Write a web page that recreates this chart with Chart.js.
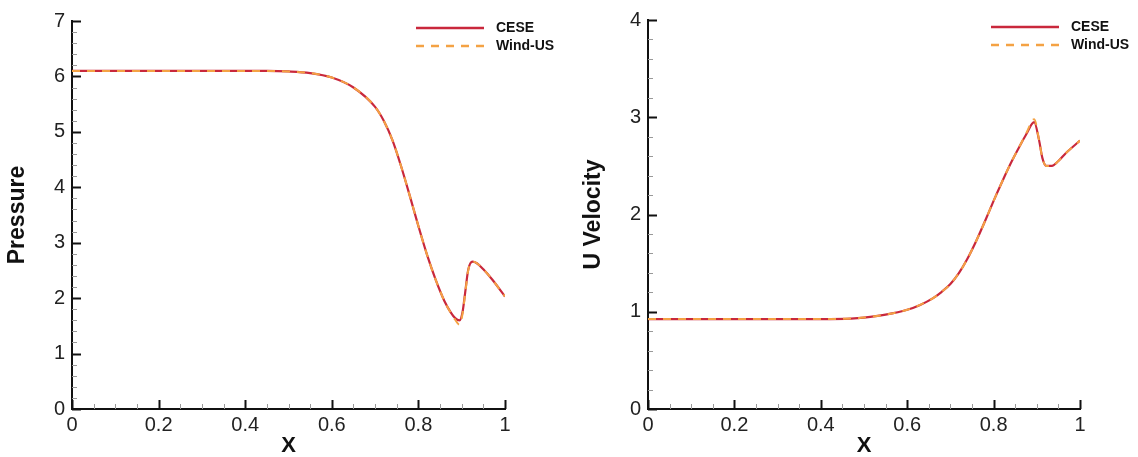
<!DOCTYPE html>
<html>
<head>
<meta charset="utf-8">
<script src="https://cdn.jsdelivr.net/npm/chart.js@4.4.1/dist/chart.umd.min.js"></script>
<style>
  html, body { margin: 0; padding: 0; background: #fff; }
  #wrap { position: relative; width: 1138px; height: 457px; }
  .box { position: absolute; top: 0; height: 457px; }
  #left { left: 0; width: 560px; }
  #right { left: 576px; width: 562px; }
</style>
</head>
<body>
<div id="wrap">
  <div class="box" id="left"><canvas id="pressureChart"></canvas></div>
  <div class="box" id="right"><canvas id="velocityChart"></canvas></div>
</div>
<script>
const seriesNames = ['CESE', 'Wind-US'];

const pressureX    = [0, 0.1, 0.2, 0.3, 0.4, 0.45, 0.5, 0.55, 0.6, 0.65, 0.7, 0.72, 0.74, 0.76, 0.78, 0.8, 0.82, 0.84, 0.86, 0.875, 0.885, 0.895, 0.902, 0.908, 0.915, 0.925, 0.935, 0.95, 0.97, 1.0];
const pressureCese = [6.10, 6.10, 6.10, 6.10, 6.10, 6.10, 6.09, 6.06, 5.98, 5.80, 5.45, 5.20, 4.85, 4.38, 3.85, 3.30, 2.78, 2.33, 1.95, 1.74, 1.64, 1.60, 1.75, 2.10, 2.51, 2.66, 2.63, 2.52, 2.34, 2.03];
const pressureWind = [6.10, 6.10, 6.10, 6.10, 6.10, 6.10, 6.09, 6.06, 5.98, 5.80, 5.45, 5.20, 4.85, 4.38, 3.85, 3.30, 2.78, 2.33, 1.95, 1.73, 1.61, 1.52, 1.72, 2.08, 2.50, 2.66, 2.63, 2.52, 2.34, 2.03];

const velocityX    = [0, 0.1, 0.2, 0.3, 0.4, 0.47, 0.5, 0.55, 0.6, 0.63, 0.66, 0.68, 0.7, 0.72, 0.74, 0.76, 0.78, 0.8, 0.82, 0.84, 0.86, 0.875, 0.894, 0.905, 0.913, 0.922, 0.935, 0.95, 0.967, 1.0];
const velocityCese = [0.925, 0.925, 0.925, 0.925, 0.925, 0.93, 0.94, 0.97, 1.02, 1.07, 1.14, 1.205, 1.285, 1.40, 1.55, 1.73, 1.93, 2.14, 2.34, 2.53, 2.70, 2.82, 2.95, 2.77, 2.58, 2.50, 2.50, 2.55, 2.63, 2.76];
const velocityWind = [0.925, 0.925, 0.925, 0.925, 0.925, 0.93, 0.94, 0.97, 1.02, 1.07, 1.14, 1.205, 1.285, 1.40, 1.55, 1.73, 1.93, 2.14, 2.34, 2.53, 2.70, 2.83, 2.98, 2.77, 2.58, 2.50, 2.50, 2.55, 2.63, 2.76];

const ceseColor = '#c9283c';
const windColor = '#f4a244';
Chart.defaults.font.family = '"Liberation Sans", Arial, Helvetica, sans-serif';
Chart.defaults.color = '#222';

function pts(xs, ys) {
  return xs.map((x, i) => ({ x: x, y: ys[i] }));
}

// inward major/minor tick marks, like the original plot
const innerTicks = {
  id: 'innerTicks',
  afterDraw(chart, args, opts) {
    const ctx = chart.ctx;
    const xs = chart.scales.x, ys = chart.scales.y;
    ctx.save();
    const nx = Math.round((xs.max - xs.min) / opts.xMinor);
    for (let i = 0; i <= nx; i++) {
      const v = xs.min + i * opts.xMinor;
      const major = i % opts.xEvery === 0;
      const px = Math.round(xs.getPixelForValue(v)) + 0.5;
      ctx.beginPath();
      ctx.strokeStyle = major ? '#111' : '#999';
      ctx.lineWidth = major ? 2 : 1;
      ctx.moveTo(px, ys.bottom);
      ctx.lineTo(px, ys.bottom - (major ? 9 : 5));
      ctx.stroke();
    }
    const ny = Math.round((ys.max - ys.min) / opts.yMinor);
    for (let i = 0; i <= ny; i++) {
      const v = ys.min + i * opts.yMinor;
      const major = i % opts.yEvery === 0;
      const py = Math.round(ys.getPixelForValue(v)) + 0.5;
      ctx.beginPath();
      ctx.strokeStyle = major ? '#111' : '#999';
      ctx.lineWidth = major ? 2 : 1;
      ctx.moveTo(xs.left, py);
      ctx.lineTo(xs.left + (major ? 9 : 5), py);
      ctx.stroke();
    }
    ctx.restore();
  }
};

// small legend in the top right corner
const cornerLegend = {
  id: 'cornerLegend',
  afterDraw(chart) {
    const ctx = chart.ctx;
    const area = chart.chartArea;
    ctx.save();
    chart.data.datasets.forEach((ds, i) => {
      const y = area.top + 7 + i * 18;
      ctx.beginPath();
      ctx.strokeStyle = ds.borderColor;
      ctx.lineWidth = 2.5;
      ctx.setLineDash(ds.borderDash || []);
      ctx.moveTo(area.right - 89, y);
      ctx.lineTo(area.right - 21, y);
      ctx.stroke();
      ctx.setLineDash([]);
      ctx.fillStyle = '#111';
      ctx.font = 'bold 14px "Liberation Sans", Arial, sans-serif';
      ctx.textBaseline = 'middle';
      ctx.fillText(ds.label, area.right - 9, y);
    });
    ctx.restore();
  }
};

function makeChart(id, xs, cese, wind, yMax, yTitle, padRight, padTop) {
  const ctx = document.getElementById(id).getContext('2d');
  return new Chart(ctx, {
    type: 'scatter',
    data: {
      datasets: [{
        label: seriesNames[0],
        data: pts(xs, cese),
        showLine: true,
        borderColor: ceseColor,
        borderWidth: 2.2,
        pointRadius: 0,
        cubicInterpolationMode: 'monotone',
        order: 1
      }, {
        label: seriesNames[1],
        data: pts(xs, wind),
        showLine: true,
        borderColor: windColor,
        borderWidth: 2,
        borderDash: [8, 7],
        pointRadius: 0,
        cubicInterpolationMode: 'monotone',
        order: 0
      }]
    },
    options: {
      responsive: true,
      maintainAspectRatio: false,
      animation: false,
      layout: { padding: { top: padTop, right: padRight, left: 0, bottom: 0 } },
      plugins: {
        legend: { display: false },
        tooltip: { enabled: false },
        innerTicks: { xMinor: 0.05, xEvery: 4, yMinor: 0.2, yEvery: 5 }
      },
      scales: {
        x: {
          type: 'linear',
          min: 0,
          max: 1,
          afterFit: (s) => { s.height = 48; },
          grid: { display: false, drawTicks: false },
          border: { display: true, color: '#111', width: 2 },
          ticks: { stepSize: 0.2, padding: 4, font: { size: 20 }, color: '#222',
                   callback: (v) => String(Math.round(v * 10) / 10) },
          title: { display: true, text: 'X', padding: 0, font: { size: 22, weight: 'bold', lineHeight: 1 }, color: '#111' }
        },
        y: {
          type: 'linear',
          min: 0,
          max: yMax,
          afterFit: (s) => { s.width = 72; },
          grid: { display: false, drawTicks: false },
          border: { display: true, color: '#111', width: 2 },
          ticks: { stepSize: 1, padding: 7, font: { size: 20 }, color: '#222' },
          title: { display: true, text: yTitle, padding: { top: 6, bottom: 0 }, font: { size: 23, weight: 'bold', lineHeight: 1 }, color: '#111' }
        }
      }
    },
    plugins: [innerTicks, cornerLegend]
  });
}

makeChart('pressureChart', pressureX, pressureCese, pressureWind, 7, 'Pressure', 55, 21);
makeChart('velocityChart', velocityX, velocityCese, velocityWind, 4, 'U Velocity', 58, 20);
</script>
</body>
</html>
